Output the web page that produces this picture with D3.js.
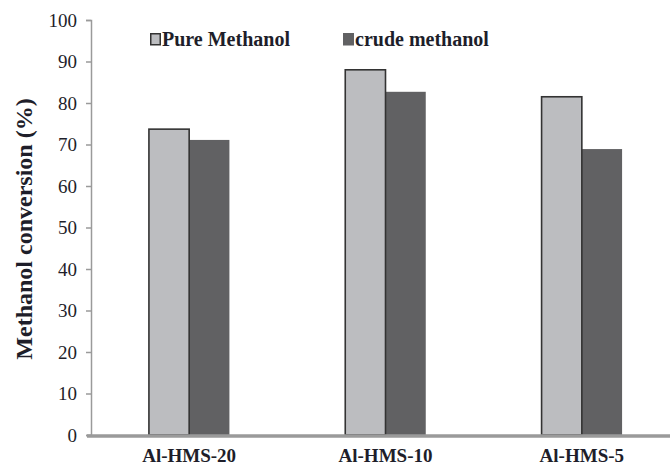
<!DOCTYPE html>
<html><head><meta charset="utf-8">
<script src="https://cdn.jsdelivr.net/npm/d3@7"></script>
<style>body{margin:0;background:#fff}</style>
</head><body>
<script>
const categories = ["Al-HMS-20","Al-HMS-10","Al-HMS-5"];
const seriesNames = ["Pure Methanol","crude methanol"];
const pureValues = [73.7, 88.0, 81.5];
const crudeValues = [71.1, 82.7, 68.9];
const yTicks = [0,10,20,30,40,50,60,70,80,90,100];
const colors = ["#bcbdc0","#616163"];

const W=670,H=467;
const svg=d3.select("body").append("svg").attr("width",W).attr("height",H);
const font="'Liberation Serif','Times New Roman',serif";
const txt="#1e1e2a";
const x0=91, yTop=20, yBot=435;
const x=d3.scaleBand().domain(categories).range([x0,680]).paddingInner(0.59).paddingOuter(0.295);
const xs=d3.scaleBand().domain(seriesNames).range([0,x.bandwidth()]);
const y=d3.scaleLinear().domain([0,100]).range([yBot,yTop]);

// y axis
const ya=svg.append("g").attr("transform",`translate(${x0},0)`)
 .call(d3.axisLeft(y).tickValues(yTicks).tickSize(5).tickPadding(9));
ya.select(".domain").attr("stroke","#9a9a9a").attr("stroke-width",1.5);
ya.selectAll(".tick line").attr("stroke","#9a9a9a").attr("stroke-width",1.5);
ya.selectAll(".tick text").attr("font-family",font).attr("font-size",19).attr("fill",txt);

const data=categories.map((c,i)=>({c,vals:[pureValues[i],crudeValues[i]]}));
const g=svg.append("g");
data.forEach(d=>{
  [1,0].forEach(k=>{
    const v=d.vals[k];
    const r=g.append("rect")
      .attr("x",x(d.c)+xs(seriesNames[k]))
      .attr("y",y(v))
      .attr("width",xs.bandwidth())
      .attr("height",y(0)-y(v))
      .attr("fill",colors[k]);
    if(k===0) r.attr("stroke","#333").attr("stroke-width",1.6);
  });
});

// x axis
svg.append("line").attr("x1",x0-4).attr("x2",670).attr("y1",yBot+1).attr("y2",yBot+1)
  .attr("stroke","#9a9a9a").attr("stroke-width",3.5);
svg.append("g").selectAll("text").data(categories).join("text")
  .attr("x",d=>x(d)+x.bandwidth()/2).attr("y",462)
  .attr("text-anchor","middle").attr("font-family",font).attr("font-weight","bold")
  .attr("font-size",19).attr("fill",txt).text(d=>d);

// y label
svg.append("text").attr("transform","translate(32,229) rotate(-90)")
  .attr("text-anchor","middle").attr("font-family",font).attr("font-weight","bold")
  .attr("font-size",24).attr("fill",txt).text("Methanol conversion (%)");

// legend
const legX=[150,343];
seriesNames.forEach((s,i)=>{
  svg.append("rect").attr("x",legX[i]+0.75).attr("y",33.75).attr("width",9.5).attr("height",11)
    .attr("fill",colors[i]).attr("stroke",i===0?"#333":colors[i]).attr("stroke-width",1.5);
  svg.append("text").attr("x",legX[i]+12).attr("y",46).attr("font-family",font)
    .attr("font-weight","bold").attr("font-size",20).attr("fill",txt).text(s);
});
</script>
</body></html>
